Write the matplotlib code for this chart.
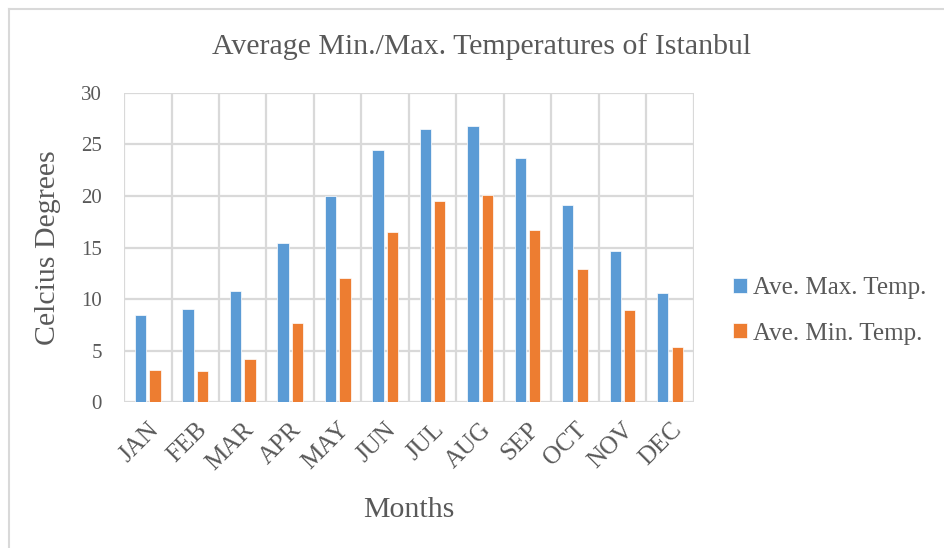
import numpy as np
import matplotlib.pyplot as plt
from matplotlib.lines import Line2D

# Monthly average temperatures for Istanbul
months = ['JAN', 'FEB', 'MAR', 'APR', 'MAY', 'JUN',
          'JUL', 'AUG', 'SEP', 'OCT', 'NOV', 'DEC']
max_temp = [8.4, 9.0, 10.8, 15.4, 20.0, 24.5, 26.5, 26.8, 23.7, 19.1, 14.7, 10.6]
min_temp = [3.1, 3.0, 4.2, 7.7, 12.0, 16.5, 19.5, 20.1, 16.7, 12.9, 8.9, 5.3]

blue = '#5B9BD5'
orange = '#ED7D31'
grid = '#D9D9D9'
text = '#595959'

plt.rcParams['font.family'] = ['Liberation Serif', 'DejaVu Serif']

fig = plt.figure(figsize=(9.44, 5.48), dpi=100)
ax = fig.add_axes([0.1314, 0.2664, 0.6036, 0.5639])

x = np.arange(len(months))
w = 0.235
off = 0.152
ax.bar(x - off, max_temp, w, color=blue, edgecolor='white', linewidth=0.5,
       label='Ave. Max. Temp.', zorder=3)
ax.bar(x + off, min_temp, w, color=orange, edgecolor='white', linewidth=0.5,
       label='Ave. Min. Temp.', zorder=3)

ax.set_xlim(-0.5, 11.5)
ax.set_ylim(0, 30)
ax.set_yticks(range(0, 31, 5))
ax.set_xticks(x)
ax.set_xticklabels(months, rotation=45, ha='right', rotation_mode='anchor')
ax.tick_params(axis='y', length=0, labelsize=15, colors=text, pad=16)
ax.tick_params(axis='x', length=0, labelsize=18, colors=text, pad=12)

# category separators and value gridlines
for b in np.arange(-0.5, 12, 1):
    ax.axvline(b, color=grid, linewidth=1.6, zorder=1)
ax.yaxis.grid(True, color=grid, linewidth=1.6, zorder=1)
ax.set_axisbelow(True)
for s in ax.spines.values():
    s.set_visible(False)

fig.text(0.51, 0.915, 'Average Min./Max. Temperatures of Istanbul', fontsize=21.5,
         color=text, ha='center', va='center')
ax.set_ylabel('Celcius Degrees', fontsize=21.5, color=text, labelpad=14)
ax.set_xlabel('Months', fontsize=21.5, color=text, labelpad=16)

ax.legend(loc='center left', bbox_to_anchor=(1.03, 0.295), frameon=False,
          fontsize=18, labelcolor=text, handlelength=0.55, handleheight=0.55,
          handletextpad=0.25, labelspacing=0.95)

# chart-area frame, left and top edges
fig.add_artist(Line2D([0.0093, 0.0093], [0, 0.9836], transform=fig.transFigure,
                      color=grid, linewidth=1.5))
fig.add_artist(Line2D([0.0093, 1], [0.9836, 0.9836], transform=fig.transFigure,
                      color=grid, linewidth=1.5))

fig.savefig('out.png', dpi=100, facecolor='white')
